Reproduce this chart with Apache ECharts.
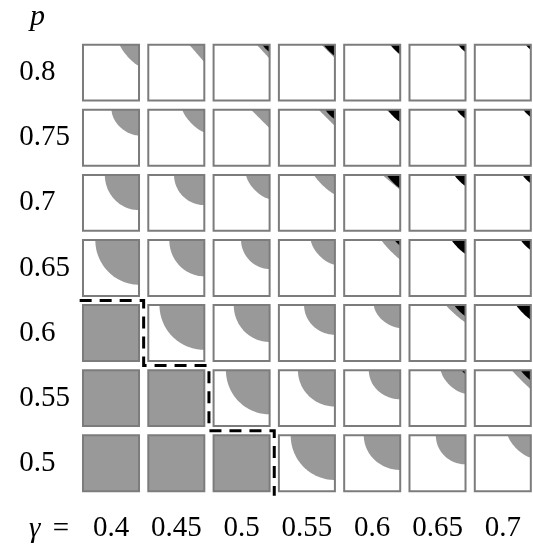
<!DOCTYPE html>
<html>
<head>
<meta charset="utf-8">
<script src="https://cdn.jsdelivr.net/npm/echarts@6/dist/echarts.min.js"></script>
<style>
  html, body { margin: 0; padding: 0; background: #fff; }
  #chart { width: 533px; height: 557px; }
</style>
</head>
<body>
<div id="chart"></div>
<script>
// Column categories (gamma) and row categories (p, listed bottom to top)
const gammaLabels = ['0.4', '0.45', '0.5', '0.55', '0.6', '0.65', '0.7'];
const pLabels = ['0.5', '0.55', '0.6', '0.65', '0.7', '0.75', '0.8'];

// Grey zone reach along the top edge (from the right), per row (p) and column (gamma).
// A value of 1 in both arrays means the whole cell is grey.
const grayWidth = [
  [1, 1, 1, 0.79, 0.65, 0.53, 0.41],
  [1, 1, 0.78, 0.66, 0.56, 0.44, 0.34],
  [1, 0.80, 0.64, 0.55, 0.47, 0.35, 0],
  [0.78, 0.625, 0.51, 0.43, 0.34, 0, 0],
  [0.61, 0.54, 0.42, 0.37, 0.32, 0, 0],
  [0.49, 0.39, 0.33, 0.29, 0.25, 0, 0],
  [0.345, 0.27, 0.23, 0.24, 0.19, 0, 0]
];
// Grey zone reach down the right edge (from the top)
const grayHeight = [
  [1, 1, 1, 0.80, 0.62, 0.52, 0.40],
  [1, 1, 0.79, 0.65, 0.52, 0.42, 0.34],
  [1, 0.80, 0.66, 0.53, 0.41, 0.31, 0],
  [0.80, 0.65, 0.52, 0.44, 0.35, 0, 0],
  [0.63, 0.54, 0.43, 0.35, 0.27, 0, 0],
  [0.46, 0.40, 0.33, 0.29, 0.22, 0, 0],
  [0.38, 0.31, 0.25, 0.24, 0.19, 0, 0]
];
// Black corner zone size
const blackSize = [
  [0, 0, 0, 0, 0, 0, 0],
  [0, 0, 0, 0, 0, 0.07, 0.18],
  [0, 0, 0, 0, 0, 0.20, 0.26],
  [0, 0, 0, 0, 0.10, 0.25, 0.18],
  [0, 0, 0, 0.04, 0.24, 0.20, 0.15],
  [0, 0, 0, 0.17, 0.22, 0.16, 0.13],
  [0, 0, 0.13, 0.20, 0.17, 0.13, 0.09]
];

// Dashed staircase, in category units (half values fall between cells)
const stairX = [-0.48, 0.5, 0.5, 1.5, 1.5, 2.5, 2.5];
const stairY = [2.5, 2.5, 1.5, 1.5, 0.5, 0.5, -0.5];

const panels = [];
for (let r = 0; r < pLabels.length; r++) {
  for (let c = 0; c < gammaLabels.length; c++) {
    panels.push([c, r, grayWidth[r][c], grayHeight[r][c], blackSize[r][c]]);
  }
}

const SERIF = "'Liberation Serif', 'Times New Roman', serif";
const FS = 29;
const CELL = 0.429;      // half cell size as a fraction of the band
const GREY = '#999999';
const EDGE = '#7c7c7c';

// Corner region bounded by a superellipse arc anchored at the top-right corner.
// Returns points in cell-local units: u left->right, w top->bottom.
function cornerPoints(a, b, n) {
  const pts = [[1, 0]];
  const steps = 40;
  for (let i = 0; i <= steps; i++) {
    const t = (Math.PI / 2) * i / steps;
    let u = 1 - a * Math.pow(Math.cos(t), 2 / n);
    let w = b * Math.pow(Math.sin(t), 2 / n);
    u = Math.max(0, Math.min(1, u));
    w = Math.max(0, Math.min(1, w));
    pts.push([u, w]);
  }
  return pts;
}

function renderPanel(params, api) {
  const c = api.coord([api.value(0), api.value(1)]);
  const band = api.size([1, 1]);
  const hx = band[0] * CELL, hy = band[1] * CELL;
  const x0 = c[0] - hx, y0 = c[1] - hy, W = 2 * hx, H = 2 * hy;
  const a = api.value(2), b = api.value(3), k = api.value(4);
  const toPx = p => [x0 + p[0] * W, y0 + p[1] * H];
  const children = [{
    type: 'rect', shape: { x: x0, y: y0, width: W, height: H },
    style: { fill: '#ffffff' }
  }];
  if (a >= 1 && b >= 1) {
    children.push({ type: 'rect', shape: { x: x0, y: y0, width: W, height: H }, style: { fill: GREY } });
  } else if (a > 0 && b > 0) {
    // small zones have an almost straight edge, large ones a round one
    const m = Math.max(a, b);
    const n = Math.max(1, Math.min(2, 1 + (m - 0.33) * 5));
    children.push({
      type: 'polygon',
      shape: { points: cornerPoints(a, b, n).map(toPx) },
      style: { fill: GREY }
    });
  }
  if (k > 0) {
    children.push({
      type: 'polygon',
      shape: { points: cornerPoints(k, k, 1.15).map(toPx) },
      style: { fill: '#000000' }
    });
  }
  children.push({
    type: 'rect', shape: { x: x0, y: y0, width: W, height: H },
    style: { fill: 'none', stroke: EDGE, lineWidth: 2 }
  });
  return { type: 'group', children };
}

function renderStair(params, api) {
  const c0 = api.coord([0, 0]);
  const band = api.size([1, 1]);
  const pts = stairX.map((x, i) => [c0[0] + x * band[0], c0[1] - stairY[i] * band[1]]);
  return {
    type: 'polyline',
    shape: { points: pts },
    style: { stroke: '#000', lineWidth: 3, lineDash: [12, 8], fill: 'none' }
  };
}

const chart = echarts.init(document.getElementById('chart'), null, { renderer: 'canvas' });
chart.setOption({
  backgroundColor: '#ffffff',
  animation: false,
  grid: { left: 78.35, top: 40.1, width: 457.1, height: 455.7, outerBoundsMode: 'none' },
  xAxis: {
    type: 'category', data: gammaLabels,
    axisLine: { show: false }, axisTick: { show: false }, splitLine: { show: false },
    axisLabel: {
      color: '#000', fontFamily: SERIF, fontSize: FS, margin: 33, verticalAlign: 'middle',
      interval: 0, hideOverlap: false
    }
  },
  yAxis: {
    type: 'category', data: pLabels,
    axisLabel: {
      color: '#000', fontFamily: SERIF, fontSize: FS, margin: 59, align: 'left',
      interval: 0, hideOverlap: false
    },
    axisLine: { show: false }, axisTick: { show: false }, splitLine: { show: false }
  },
  graphic: [
    {
      type: 'text', left: 30, top: 2,
      style: { text: 'p', font: 'italic 30px ' + SERIF, fill: '#000' }
    },
    {
      type: 'text', x: 29, y: 529,
      style: {
        text: '{g|γ} =', fill: '#000', verticalAlign: 'middle',
        rich: {
          g: { font: 'italic ' + FS + 'px ' + SERIF, fill: '#000', padding: [0, 5, 0, 0] }
        },
        font: FS + 'px ' + SERIF
      }
    }
  ],
  series: [
    { type: 'custom', renderItem: renderPanel, data: panels, silent: true, clip: false },
    { type: 'custom', renderItem: renderStair, data: [[0, 0]], silent: true, clip: false, z: 5 }
  ]
});
</script>
</body>
</html>
